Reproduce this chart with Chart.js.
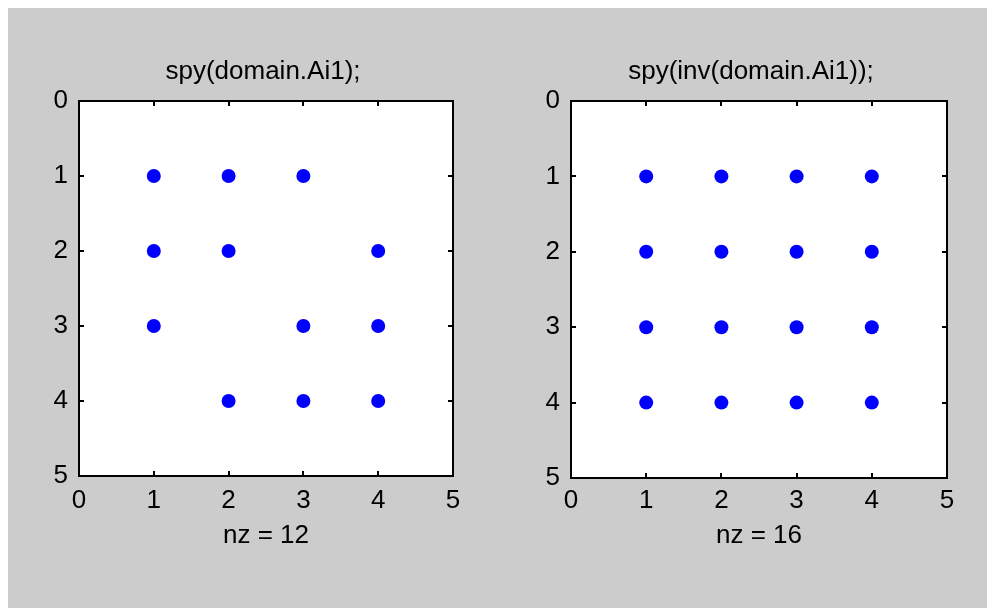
<!DOCTYPE html>
<html>
<head>
<meta charset="utf-8">
<script src="https://cdn.jsdelivr.net/npm/chart.js@4/dist/chart.umd.min.js"></script>
<style>
  html, body { margin: 0; padding: 0; background: #ffffff; }
  #figure { position: absolute; left: 8px; top: 8px; width: 979px; height: 600px; background: #cccccc; }
  .panel { position: absolute; top: 0; height: 608px; }
  #panelA { left: 0; width: 493px; }
  #panelB { left: 493px; width: 494px; }
</style>
</head>
<body>
<div id="figure"></div>
<div class="panel" id="panelA"><canvas id="spyA"></canvas></div>
<div class="panel" id="panelB"><canvas id="spyB"></canvas></div>
<script>
// Sparsity pattern of domain.Ai1 (row / column of each nonzero)
const aiRows = [1, 1, 1, 2, 2, 2, 3, 3, 3, 4, 4, 4];
const aiCols = [1, 2, 3, 1, 2, 4, 1, 3, 4, 2, 3, 4];

// Sparsity pattern of inv(domain.Ai1): fully dense 4x4
const invRows = [1, 1, 1, 1, 2, 2, 2, 2, 3, 3, 3, 3, 4, 4, 4, 4];
const invCols = [1, 2, 3, 4, 1, 2, 3, 4, 1, 2, 3, 4, 1, 2, 3, 4];

// Panel titles and axis ticks
const titles = ['spy(domain.Ai1);', 'spy(inv(domain.Ai1));'];
const axisTicks = [0, 1, 2, 3, 4, 5];

const FONT = '"Liberation Sans", Arial, Helvetica, sans-serif';
const FONT_SIZE = 26;
Chart.defaults.font.family = FONT;
Chart.defaults.color = '#000000';

// Box around the axes with small inward ticks on all four sides
const axesFrame = {
  id: 'axesFrame',
  afterDatasetsDraw(chart) {
    const { ctx, chartArea: a, scales } = chart;
    const len = 5;
    ctx.save();
    ctx.strokeStyle = '#000000';
    ctx.lineWidth = 2;
    ctx.beginPath();
    scales.x.ticks.forEach(t => {
      const px = Math.round(scales.x.getPixelForValue(t.value));
      ctx.moveTo(px, a.top); ctx.lineTo(px, a.top + len);
      ctx.moveTo(px, a.bottom); ctx.lineTo(px, a.bottom - len);
    });
    scales.y.ticks.forEach(t => {
      const py = Math.round(scales.y.getPixelForValue(t.value));
      ctx.moveTo(a.left, py); ctx.lineTo(a.left + len, py);
      ctx.moveTo(a.right, py); ctx.lineTo(a.right - len, py);
    });
    ctx.stroke();
    ctx.strokeRect(a.left, a.top, a.right - a.left, a.bottom - a.top);
    ctx.restore();
  }
};

// White plotting area
const axesFill = {
  id: 'axesFill',
  beforeDraw(chart) {
    const { ctx, chartArea: a } = chart;
    ctx.save();
    ctx.fillStyle = '#ffffff';
    ctx.fillRect(a.left, a.top, a.right - a.left, a.bottom - a.top);
    ctx.restore();
  }
};

// Axes title centred over the plotting box
const axesTitle = {
  id: 'axesTitle',
  afterDraw(chart, args, opts) {
    const { ctx, chartArea: a } = chart;
    ctx.save();
    ctx.fillStyle = '#000000';
    ctx.font = FONT_SIZE + 'px ' + FONT;
    ctx.textAlign = 'center';
    ctx.textBaseline = 'middle';
    ctx.fillText(opts.text, (a.left + a.right) / 2 + opts.shift, 72);
    ctx.restore();
  }
};

function spyChart(canvasId, rows, cols, title, titleShift, yAxisWidth, xAxisHeight, xTickPad) {
  const points = rows.map((r, i) => ({ x: cols[i], y: r }));
  return new Chart(document.getElementById(canvasId), {
    type: 'scatter',
    data: {
      datasets: [{
        data: points,
        pointStyle: 'circle',
        pointRadius: 7,
        pointHoverRadius: 7,
        backgroundColor: '#0000ff',
        borderColor: '#0000ff',
        borderWidth: 0
      }]
    },
    options: {
      responsive: true,
      maintainAspectRatio: false,
      animation: false,
      events: [],
      layout: { padding: { left: 0, right: 40, top: 101, bottom: 0 } },
      plugins: {
        legend: { display: false },
        tooltip: { enabled: false },
        title: { display: false },
        axesTitle: { text: title, shift: titleShift }
      },
      scales: {
        x: {
          type: 'linear',
          min: 0, max: 5,
          afterBuildTicks(scale) { scale.ticks = axisTicks.map(v => ({ value: v })); },
          afterFit(scale) { scale.height = xAxisHeight; },
          grid: { display: false, drawTicks: false },
          border: { display: false },
          ticks: { padding: xTickPad, font: { size: FONT_SIZE }, color: '#000000', maxRotation: 0 },
          title: {
            display: true,
            text: 'nz = ' + rows.length,
            color: '#000000',
            font: { size: FONT_SIZE, lineHeight: 1.2 },
            padding: { top: 0, bottom: 57 }
          }
        },
        y: {
          type: 'linear',
          reverse: true,
          min: 0, max: 5,
          afterBuildTicks(scale) { scale.ticks = axisTicks.map(v => ({ value: v })); },
          afterFit(scale) { scale.width = yAxisWidth; },
          grid: { display: false, drawTicks: false },
          border: { display: false },
          ticks: { padding: 11, font: { size: FONT_SIZE }, color: '#000000' }
        }
      }
    },
    plugins: [axesFill, axesFrame, axesTitle]
  });
}

spyChart('spyA', aiRows, aiCols, titles[0], -3, 79, 132, 9);
spyChart('spyB', invRows, invCols, titles[1], -8, 78, 130, 7);
</script>
</body>
</html>
